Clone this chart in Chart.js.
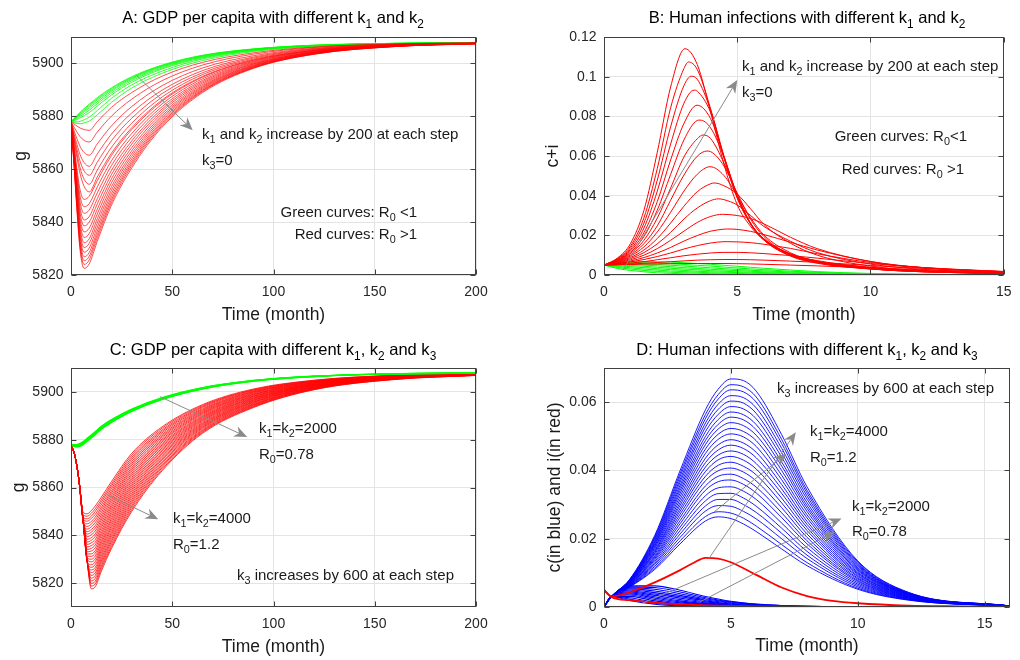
<!DOCTYPE html>
<html>
<head>
<meta charset="utf-8">
<title>GDP per capita and human infections</title>
<script src="https://cdn.jsdelivr.net/npm/chart.js@4.4.1/dist/chart.umd.min.js"></script>
<style>
  html, body { margin: 0; padding: 0; background: #ffffff; }
  #wrap { position: relative; width: 1020px; height: 660px; overflow: hidden; background: #fff;
          font-family: "Liberation Sans", Arial, Helvetica, sans-serif; }
  #wrap canvas { position: absolute; }
  .lbl { position: absolute; white-space: nowrap; line-height: 1; color: #000; }
  .lbl sub { font-size: 0.72em; vertical-align: baseline; position: relative; top: 0.38em; }
  .ttl { font-size: 16.5px; transform: translate(-50%, -50%); }
  .ann { font-size: 15px; transform: translate(0, -50%); color: #1a1a1a; }
  .annR { font-size: 15px; transform: translate(-100%, -50%); color: #1a1a1a; }
</style>
</head>
<body>
<div id="wrap">
  <canvas id="chartA" width="510" height="330" style="left:0px;top:0px"></canvas>
  <canvas id="chartB" width="510" height="330" style="left:510px;top:0px"></canvas>
  <canvas id="chartC" width="510" height="330" style="left:0px;top:330px"></canvas>
  <canvas id="chartD" width="510" height="330" style="left:510px;top:330px"></canvas>

  <div class="lbl ttl" style="left:273px;top:17px">A: GDP per capita with different k<sub>1</sub> and k<sub>2</sub></div>
  <div class="lbl ttl" style="left:807px;top:17px">B: Human infections with different k<sub>1</sub> and k<sub>2</sub></div>
  <div class="lbl ttl" style="left:273px;top:349px">C: GDP per capita with different k<sub>1</sub>, k<sub>2</sub> and k<sub>3</sub></div>
  <div class="lbl ttl" style="left:807px;top:349px">D: Human infections with different k<sub>1</sub>, k<sub>2</sub> and k<sub>3</sub></div>

  <div class="lbl ann" style="left:202px;top:133px">k<sub>1</sub> and k<sub>2</sub> increase by 200 at each step</div>
  <div class="lbl ann" style="left:202px;top:159px">k<sub>3</sub>=0</div>
  <div class="lbl annR" style="left:417px;top:211px">Green curves: R<sub>0</sub> &lt;1</div>
  <div class="lbl annR" style="left:417px;top:233px">Red curves: R<sub>0</sub> &gt;1</div>

  <div class="lbl ann" style="left:742px;top:65px">k<sub>1</sub> and k<sub>2</sub> increase by 200 at each step</div>
  <div class="lbl ann" style="left:742px;top:91px">k<sub>3</sub>=0</div>
  <div class="lbl annR" style="left:967px;top:135px">Green curves: R<sub>0</sub>&lt;1</div>
  <div class="lbl annR" style="left:964px;top:168px">Red curves: R<sub>0</sub> &gt;1</div>

  <div class="lbl ann" style="left:259px;top:427px">k<sub>1</sub>=k<sub>2</sub>=2000</div>
  <div class="lbl ann" style="left:259px;top:453px">R<sub>0</sub>=0.78</div>
  <div class="lbl ann" style="left:173px;top:517px">k<sub>1</sub>=k<sub>2</sub>=4000</div>
  <div class="lbl ann" style="left:173px;top:543px">R<sub>0</sub>=1.2</div>
  <div class="lbl ann" style="left:237px;top:574px">k<sub>3</sub> increases by 600 at each step</div>

  <div class="lbl ann" style="left:777px;top:387px">k<sub>3</sub> increases by 600 at each step</div>
  <div class="lbl ann" style="left:810px;top:430px">k<sub>1</sub>=k<sub>2</sub>=4000</div>
  <div class="lbl ann" style="left:810px;top:456px">R<sub>0</sub>=1.2</div>
  <div class="lbl ann" style="left:852px;top:505px">k<sub>1</sub>=k<sub>2</sub>=2000</div>
  <div class="lbl ann" style="left:852px;top:530px">R<sub>0</sub>=0.78</div>
</div>

<script>
// ---------------- Tick labels ----------------
const xTicksA = [0, 50, 100, 150, 200];
const yTicksA = [5820, 5840, 5860, 5880, 5900];
const xTicksB = [0, 5, 10, 15];
const yTicksB = [0, 0.02, 0.04, 0.06, 0.08, 0.1, 0.12];
const xTicksC = [0, 50, 100, 150, 200];
const yTicksC = [5820, 5840, 5860, 5880, 5900];
const xTicksD = [0, 5, 10, 15];
const yTicksD = [0, 0.02, 0.04, 0.06];

// ---------------- Panel A: GDP per capita g, k3 = 0 ----------------
const tA = [0, 1.5, 3, 4.5, 6.5, 9, 13, 20, 30, 45, 65, 90, 120, 160, 200];
const aGreen = [
  [5878, 5879.2, 5880.4, 5881.5, 5883.0, 5884.6, 5887.1, 5890.8, 5895.0, 5899.4, 5903.1, 5905.5, 5906.9, 5907.6, 5907.9],
  [5878, 5879.1, 5880.2, 5881.2, 5882.7, 5884.2, 5886.7, 5890.5, 5894.7, 5899.2, 5903.0, 5905.4, 5906.9, 5907.6, 5907.9],
  [5878, 5879.0, 5880.0, 5880.9, 5882.2, 5883.7, 5886.2, 5890.0, 5894.4, 5899.0, 5902.8, 5905.4, 5906.8, 5907.6, 5907.9],
  [5878, 5878.8, 5879.7, 5880.5, 5881.7, 5883.1, 5885.5, 5889.5, 5894.0, 5898.7, 5902.6, 5905.3, 5906.8, 5907.6, 5907.9],
  [5878, 5878.6, 5879.3, 5880.0, 5881.0, 5882.3, 5884.8, 5888.8, 5893.5, 5898.3, 5902.4, 5905.1, 5906.7, 5907.5, 5907.9],
  [5878, 5878.4, 5878.8, 5879.4, 5880.3, 5881.4, 5883.9, 5888.1, 5892.9, 5897.9, 5902.1, 5905.0, 5906.7, 5907.5, 5907.9],
  [5878, 5877.9, 5877.9, 5878.1, 5878.7, 5879.7, 5882.2, 5886.8, 5891.9, 5897.1, 5901.7, 5904.8, 5906.6, 5907.5, 5907.8],
  [5878, 5877.6, 5877.3, 5877.2, 5877.5, 5878.2, 5880.6, 5885.3, 5890.7, 5896.3, 5901.1, 5904.5, 5906.4, 5907.4, 5907.8]
];
const aRed = [
  [5878, 5877.1, 5876.3, 5875.6, 5875.0, 5874.7, 5878.0, 5883.4, 5889.0, 5895.2, 5900.4, 5904.0, 5906.2, 5907.4, 5907.8],
  [5878, 5875.9, 5874.0, 5872.3, 5870.9, 5870.3, 5874.1, 5880.1, 5886.5, 5893.5, 5899.4, 5903.5, 5906.0, 5907.3, 5907.7],
  [5878, 5874.6, 5871.4, 5868.6, 5866.3, 5865.3, 5869.6, 5876.4, 5883.7, 5891.6, 5898.3, 5902.9, 5905.7, 5907.2, 5907.7],
  [5878, 5873.4, 5869.2, 5865.5, 5862.5, 5861.1, 5865.8, 5873.3, 5881.3, 5889.9, 5897.3, 5902.4, 5905.5, 5907.1, 5907.7],
  [5878, 5872.5, 5867.4, 5863.0, 5859.3, 5857.7, 5862.7, 5870.8, 5879.3, 5888.6, 5896.5, 5902.0, 5905.3, 5907.0, 5907.6],
  [5878, 5871.6, 5865.7, 5860.5, 5856.2, 5854.3, 5859.7, 5868.3, 5877.4, 5887.3, 5895.8, 5901.6, 5905.1, 5907.0, 5907.6],
  [5878, 5870.8, 5864.2, 5858.3, 5853.5, 5851.4, 5857.1, 5866.1, 5875.7, 5886.2, 5895.1, 5901.3, 5904.9, 5906.9, 5907.6],
  [5878, 5869.2, 5859.8, 5852.1, 5848.6, 5849.8, 5855.7, 5865.2, 5875.0, 5885.7, 5894.8, 5901.1, 5904.9, 5906.9, 5907.6],
  [5878, 5868.3, 5858.0, 5849.7, 5845.8, 5847.0, 5853.3, 5863.2, 5873.5, 5884.7, 5894.2, 5900.8, 5904.7, 5906.8, 5907.6],
  [5878, 5867.6, 5856.5, 5847.5, 5843.3, 5844.6, 5851.1, 5861.4, 5872.1, 5883.7, 5893.6, 5900.5, 5904.6, 5906.8, 5907.6],
  [5878, 5866.8, 5854.9, 5845.3, 5840.8, 5842.1, 5848.9, 5859.6, 5870.7, 5882.8, 5893.1, 5900.2, 5904.4, 5906.7, 5907.6],
  [5878, 5866.2, 5853.6, 5843.3, 5838.6, 5840.0, 5846.9, 5858.0, 5869.5, 5882.0, 5892.6, 5899.9, 5904.3, 5906.7, 5907.5],
  [5878, 5865.5, 5852.1, 5841.3, 5836.3, 5837.7, 5844.9, 5856.4, 5868.2, 5881.1, 5892.1, 5899.7, 5904.2, 5906.6, 5907.5],
  [5878, 5864.9, 5850.8, 5839.5, 5834.2, 5835.7, 5843.1, 5854.9, 5867.0, 5880.3, 5891.6, 5899.4, 5904.1, 5906.6, 5907.5],
  [5878, 5864.3, 5849.6, 5837.7, 5832.2, 5833.7, 5841.3, 5853.4, 5865.9, 5879.6, 5891.2, 5899.2, 5904.0, 5906.6, 5907.5],
  [5878, 5863.7, 5848.5, 5836.1, 5830.4, 5832.0, 5839.7, 5852.1, 5864.9, 5878.9, 5890.8, 5899.0, 5903.9, 5906.5, 5907.5],
  [5878, 5863.2, 5847.4, 5834.5, 5828.6, 5830.2, 5838.1, 5850.8, 5863.9, 5878.2, 5890.4, 5898.8, 5903.8, 5906.5, 5907.5],
  [5878, 5862.7, 5846.3, 5833.0, 5826.9, 5828.5, 5836.6, 5849.6, 5863.0, 5877.6, 5890.0, 5898.6, 5903.7, 5906.5, 5907.5],
  [5878, 5862.2, 5845.4, 5831.7, 5825.4, 5827.1, 5835.3, 5848.5, 5862.2, 5877.0, 5889.7, 5898.4, 5903.6, 5906.4, 5907.5],
  [5878, 5861.8, 5844.5, 5830.5, 5824.0, 5825.7, 5834.1, 5847.5, 5861.4, 5876.5, 5889.4, 5898.3, 5903.5, 5906.4, 5907.4],
  [5878, 5861.3, 5843.6, 5829.2, 5822.5, 5824.2, 5832.8, 5846.4, 5860.5, 5875.9, 5889.0, 5898.1, 5903.5, 5906.4, 5907.4]
];

// ---------------- Panel B: c + i, k3 = 0 ----------------
const tB = [0, 0.5, 1, 1.5, 2, 2.5, 3, 3.5, 4, 4.5, 5, 5.5, 6, 7, 8, 10, 12, 15];
const bRed = [
  [0.005, 0.0085, 0.0160, 0.0327, 0.0619, 0.0948, 0.1135, 0.1061, 0.0822, 0.0559, 0.0354, 0.0245, 0.0177, 0.0105, 0.0072, 0.0039, 0.0021, 0.0009],
  [0.005, 0.0082, 0.0147, 0.0289, 0.0537, 0.0843, 0.1041, 0.1036, 0.0838, 0.0591, 0.0387, 0.0258, 0.0183, 0.0107, 0.0071, 0.0038, 0.0020, 0.0009],
  [0.005, 0.0080, 0.0138, 0.0262, 0.0478, 0.0747, 0.0955, 0.0987, 0.0832, 0.0601, 0.0391, 0.0261, 0.0180, 0.0105, 0.0069, 0.0036, 0.0019, 0.0009],
  [0.005, 0.0078, 0.0129, 0.0237, 0.0423, 0.0660, 0.0866, 0.0927, 0.0820, 0.0596, 0.0401, 0.0261, 0.0182, 0.0103, 0.0067, 0.0034, 0.0019, 0.0008],
  [0.005, 0.0075, 0.0122, 0.0214, 0.0370, 0.0580, 0.0764, 0.0856, 0.0788, 0.0599, 0.0402, 0.0257, 0.0180, 0.0103, 0.0065, 0.0033, 0.0018, 0.0008],
  [0.005, 0.0074, 0.0115, 0.0194, 0.0327, 0.0507, 0.0681, 0.0779, 0.0742, 0.0594, 0.0398, 0.0258, 0.0176, 0.0098, 0.0062, 0.0031, 0.0016, 0.0008],
  [0.005, 0.0072, 0.0109, 0.0175, 0.0287, 0.0438, 0.0595, 0.0687, 0.0688, 0.0565, 0.0402, 0.0261, 0.0177, 0.0095, 0.0059, 0.0030, 0.0016, 0.0007],
  [0.005, 0.0070, 0.0102, 0.0158, 0.0248, 0.0377, 0.0504, 0.0599, 0.0622, 0.0550, 0.0413, 0.0281, 0.0194, 0.0100, 0.0063, 0.0031, 0.0017, 0.0008],
  [0.005, 0.0068, 0.0096, 0.0142, 0.0217, 0.0316, 0.0423, 0.0508, 0.0546, 0.0502, 0.0399, 0.0289, 0.0202, 0.0112, 0.0068, 0.0032, 0.0016, 0.0007],
  [0.005, 0.0066, 0.0089, 0.0126, 0.0184, 0.0262, 0.0347, 0.0420, 0.0460, 0.0450, 0.0408, 0.0334, 0.0255, 0.0160, 0.0100, 0.0045, 0.0022, 0.0009],
  [0.005, 0.0064, 0.0083, 0.0113, 0.0157, 0.0215, 0.0282, 0.0338, 0.0375, 0.0380, 0.0353, 0.0300, 0.0245, 0.0170, 0.0113, 0.0055, 0.0028, 0.0011],
  [0.005, 0.0061, 0.0077, 0.0100, 0.0133, 0.0175, 0.0221, 0.0265, 0.0295, 0.0306, 0.0300, 0.0285, 0.0258, 0.0190, 0.0133, 0.0068, 0.0036, 0.0015],
  [0.005, 0.0059, 0.0071, 0.0088, 0.0111, 0.0139, 0.0171, 0.0199, 0.0221, 0.0231, 0.0230, 0.0220, 0.0204, 0.0165, 0.0126, 0.0068, 0.0037, 0.0016],
  [0.005, 0.0057, 0.0066, 0.0078, 0.0093, 0.0111, 0.0131, 0.0148, 0.0161, 0.0168, 0.0167, 0.0163, 0.0155, 0.0134, 0.0107, 0.0063, 0.0037, 0.0017],
  [0.005, 0.0055, 0.0060, 0.0067, 0.0077, 0.0087, 0.0097, 0.0105, 0.0111, 0.0114, 0.0114, 0.0112, 0.0108, 0.0098, 0.0085, 0.0058, 0.0037, 0.0018],
  [0.005, 0.0052, 0.0055, 0.0059, 0.0063, 0.0067, 0.0071, 0.0075, 0.0077, 0.0078, 0.0078, 0.0077, 0.0075, 0.0070, 0.0064, 0.0048, 0.0033, 0.0017],
  [0.005, 0.0051, 0.0053, 0.0055, 0.0056, 0.0057, 0.0058, 0.0058, 0.0058, 0.0058, 0.0057, 0.0056, 0.0054, 0.0050, 0.0046, 0.0036, 0.0026, 0.0014]
];
// peak (time, value) read for the taller red curves in panel B
const bPeakT = [3.04, 3.17, 3.27, 3.38, 3.49, 3.60, 3.72, 3.86, 3.98, 4.15, 4.30, 4.45, 4.60, 4.65];
const bPeakV = [0.1141, 0.1074, 0.1002, 0.0932, 0.0856, 0.0781, 0.0706, 0.0625, 0.0546, 0.0464, 0.0384, 0.0306, 0.0232, 0.0168];
const bGreen = [
  [0.005, 0.0062, 0.0067, 0.0068, 0.0067, 0.0065, 0.0062, 0.0058, 0.0054, 0.0049, 0.0044, 0.0039, 0.0034, 0.0025, 0.0017, 0.0008, 0.0004, 0.0001],
  [0.005, 0.0060, 0.0063, 0.0062, 0.0060, 0.0057, 0.0053, 0.0049, 0.0045, 0.0040, 0.0035, 0.0031, 0.0027, 0.0019, 0.0013, 0.0006, 0.0003, 0.0001],
  [0.005, 0.0057, 0.0058, 0.0056, 0.0053, 0.0049, 0.0045, 0.0041, 0.0036, 0.0032, 0.0028, 0.0024, 0.0021, 0.0015, 0.0010, 0.0004, 0.0002, 0.0001],
  [0.005, 0.0054, 0.0053, 0.0050, 0.0046, 0.0042, 0.0037, 0.0033, 0.0029, 0.0025, 0.0022, 0.0019, 0.0016, 0.0011, 0.0007, 0.0003, 0.0001, 0],
  [0.005, 0.0051, 0.0048, 0.0044, 0.0039, 0.0034, 0.0030, 0.0026, 0.0022, 0.0019, 0.0016, 0.0014, 0.0012, 0.0008, 0.0005, 0.0002, 0.0001, 0],
  [0.005, 0.0047, 0.0042, 0.0037, 0.0032, 0.0027, 0.0023, 0.0019, 0.0016, 0.0014, 0.0012, 0.0010, 0.0008, 0.0005, 0.0003, 0.0001, 0, 0],
  [0.005, 0.0043, 0.0036, 0.0030, 0.0025, 0.0020, 0.0017, 0.0014, 0.0011, 0.0009, 0.0008, 0.0006, 0.0005, 0.0003, 0.0002, 0.0001, 0, 0],
  [0.005, 0.0038, 0.0030, 0.0023, 0.0018, 0.0014, 0.0011, 0.0009, 0.0007, 0.0005, 0.0004, 0.0003, 0.0003, 0.0002, 0.0001, 0, 0, 0],
  [0.005, 0.0033, 0.0023, 0.0016, 0.0011, 0.0008, 0.0006, 0.0004, 0.0003, 0.0002, 0.0002, 0.0001, 0.0001, 0, 0, 0, 0, 0]
];

// ---------------- Panel C: g with k3 varying ----------------
const tC = [0, 2, 4, 6, 8, 10, 12, 15, 20, 30, 45, 65, 90, 120, 160, 200];
const cRed = [
  [5878, 5873, 5863.0, 5849.6, 5849.0, 5850.3, 5852.3, 5856.0, 5862.5, 5874.3, 5885.4, 5894.7, 5901.2, 5904.9, 5907.0, 5907.6],
  [5878, 5873, 5862.8, 5848.6, 5848.0, 5849.2, 5851.1, 5854.9, 5861.5, 5873.5, 5884.8, 5894.3, 5900.9, 5904.8, 5906.9, 5907.6],
  [5878, 5873, 5862.5, 5847.6, 5846.9, 5848.0, 5850.0, 5853.9, 5860.6, 5872.6, 5884.1, 5893.9, 5900.7, 5904.6, 5906.8, 5907.6],
  [5878, 5873, 5862.5, 5846.9, 5845.9, 5847.0, 5848.8, 5852.8, 5859.6, 5871.8, 5883.5, 5893.5, 5900.4, 5904.5, 5906.8, 5907.5],
  [5878, 5873, 5862.5, 5846.4, 5844.8, 5845.8, 5847.6, 5851.7, 5858.6, 5870.9, 5882.9, 5893.0, 5900.1, 5904.3, 5906.7, 5907.5],
  [5878, 5873, 5862.5, 5846.0, 5843.7, 5844.7, 5846.5, 5850.7, 5857.7, 5870.1, 5882.2, 5892.6, 5899.9, 5904.2, 5906.7, 5907.5],
  [5878, 5873, 5862.5, 5846.0, 5842.6, 5843.5, 5845.3, 5849.6, 5856.7, 5869.3, 5881.6, 5892.2, 5899.6, 5904.1, 5906.6, 5907.5],
  [5878, 5873, 5862.5, 5846.0, 5841.5, 5842.4, 5844.1, 5848.5, 5855.7, 5868.4, 5881.0, 5891.8, 5899.3, 5903.9, 5906.5, 5907.4],
  [5878, 5873, 5862.5, 5846.0, 5840.5, 5841.3, 5843.0, 5847.4, 5854.8, 5867.6, 5880.3, 5891.4, 5899.0, 5903.8, 5906.5, 5907.4],
  [5878, 5873, 5862.5, 5846.0, 5839.4, 5840.2, 5841.8, 5846.4, 5853.8, 5866.8, 5879.7, 5891.0, 5898.8, 5903.7, 5906.4, 5907.4],
  [5878, 5873, 5862.5, 5846.0, 5838.3, 5839.0, 5840.6, 5845.3, 5852.8, 5865.9, 5879.1, 5890.6, 5898.5, 5903.5, 5906.4, 5907.4],
  [5878, 5873, 5862.5, 5846.0, 5837.2, 5837.9, 5839.5, 5844.2, 5851.9, 5865.1, 5878.4, 5890.1, 5898.2, 5903.4, 5906.3, 5907.3],
  [5878, 5873, 5862.5, 5846.0, 5836.2, 5836.8, 5838.3, 5843.2, 5850.9, 5864.2, 5877.8, 5889.7, 5898.0, 5903.2, 5906.2, 5907.3],
  [5878, 5873, 5862.5, 5846.0, 5835.1, 5835.7, 5837.1, 5842.1, 5849.9, 5863.4, 5877.2, 5889.3, 5897.7, 5903.1, 5906.2, 5907.3],
  [5878, 5873, 5862.5, 5846.0, 5834.1, 5834.5, 5836.0, 5841.0, 5849.0, 5862.6, 5876.5, 5888.9, 5897.4, 5903.0, 5906.1, 5907.3],
  [5878, 5873, 5862.5, 5846.0, 5833.1, 5833.4, 5834.8, 5840.0, 5848.0, 5861.7, 5875.9, 5888.5, 5897.2, 5902.8, 5906.1, 5907.2],
  [5878, 5873, 5862.5, 5846.0, 5832.2, 5832.2, 5833.6, 5838.9, 5847.0, 5860.9, 5875.3, 5888.1, 5896.9, 5902.7, 5906.0, 5907.2],
  [5878, 5873, 5862.5, 5846.0, 5831.3, 5831.2, 5832.5, 5837.8, 5846.1, 5860.1, 5874.6, 5887.7, 5896.6, 5902.6, 5905.9, 5907.2],
  [5878, 5873, 5862.5, 5846.0, 5830.5, 5830.0, 5831.3, 5836.8, 5845.1, 5859.2, 5874.0, 5887.2, 5896.4, 5902.4, 5905.9, 5907.2],
  [5878, 5873, 5862.5, 5846.0, 5829.8, 5828.9, 5830.1, 5835.7, 5844.1, 5858.4, 5873.4, 5886.8, 5896.1, 5902.3, 5905.8, 5907.1],
  [5878, 5873, 5862.5, 5846.0, 5829.0, 5827.7, 5829.0, 5834.6, 5843.2, 5857.5, 5872.7, 5886.4, 5895.8, 5902.1, 5905.8, 5907.1],
  [5878, 5873, 5862.5, 5846.0, 5829.0, 5826.6, 5827.8, 5833.6, 5842.2, 5856.7, 5872.1, 5886.0, 5895.6, 5902.0, 5905.7, 5907.1],
  [5878, 5873, 5862.5, 5846.0, 5829.0, 5825.5, 5826.6, 5832.5, 5841.2, 5855.9, 5871.5, 5885.6, 5895.3, 5901.9, 5905.6, 5907.1],
  [5878, 5873, 5862.5, 5846.0, 5829.0, 5824.4, 5825.5, 5831.4, 5840.3, 5855.0, 5870.8, 5885.2, 5895.0, 5901.7, 5905.6, 5907.0],
  [5878, 5873, 5862.5, 5846.0, 5829.0, 5823.2, 5824.3, 5830.3, 5839.3, 5854.2, 5870.2, 5884.8, 5894.7, 5901.6, 5905.5, 5907.0],
  [5878, 5873, 5862.5, 5846.0, 5829.0, 5822.1, 5823.2, 5829.3, 5838.3, 5853.4, 5869.5, 5884.3, 5894.5, 5901.5, 5905.5, 5907.0],
  [5878, 5873, 5862.5, 5846.0, 5829.0, 5820.9, 5822.0, 5828.2, 5837.4, 5852.5, 5868.9, 5883.9, 5894.2, 5901.3, 5905.4, 5907.0],
  [5878, 5873, 5862.5, 5846.0, 5829.0, 5819.9, 5820.8, 5827.1, 5836.4, 5851.7, 5868.3, 5883.5, 5893.9, 5901.2, 5905.3, 5906.9],
  [5878, 5873, 5862.5, 5846.0, 5829.0, 5818.8, 5819.7, 5826.1, 5835.4, 5850.8, 5867.6, 5883.1, 5893.7, 5901.0, 5905.3, 5906.9],
  [5878, 5873, 5862.5, 5846.0, 5829.0, 5817.6, 5818.5, 5825.0, 5834.5, 5850.0, 5867.0, 5882.7, 5893.4, 5900.9, 5905.2, 5906.9]
];
const cGreen = [
  [5878, 5877.9, 5878.3, 5879.2, 5880.6, 5882.0, 5883.4, 5885.6, 5888.4, 5892.8, 5897.6, 5901.8, 5904.8, 5906.6, 5907.6, 5907.9],
  [5878, 5877.7, 5878.1, 5878.9, 5880.3, 5881.7, 5883.1, 5885.4, 5888.2, 5892.6, 5897.4, 5901.7, 5904.7, 5906.6, 5907.6, 5907.9],
  [5878, 5877.5, 5877.8, 5878.7, 5880.1, 5881.5, 5882.9, 5885.1, 5887.9, 5892.4, 5897.3, 5901.6, 5904.7, 5906.5, 5907.6, 5907.9],
  [5878, 5877.4, 5877.6, 5878.4, 5879.8, 5881.2, 5882.6, 5884.9, 5887.7, 5892.2, 5897.1, 5901.4, 5904.6, 5906.5, 5907.6, 5907.9],
  [5878, 5877.2, 5877.3, 5878.2, 5879.6, 5881.0, 5882.4, 5884.6, 5887.4, 5892.0, 5896.9, 5901.3, 5904.5, 5906.4, 5907.5, 5907.9],
  [5878, 5877.0, 5877.1, 5877.9, 5879.3, 5880.7, 5882.1, 5884.4, 5887.2, 5891.8, 5896.8, 5901.2, 5904.5, 5906.4, 5907.5, 5907.9]
];

// ---------------- Panel D: c (blue) and i (red) ----------------
const tD = [0, 0.3, 1, 2, 3, 4, 4.5, 5, 5.5, 6, 7, 8, 10, 12, 16];
const dBlueHigh = [
  [0, 0.0031, 0.0080, 0.0210, 0.0400, 0.0578, 0.0638, 0.0668, 0.0663, 0.0632, 0.0505, 0.0352, 0.0135, 0.0043, 0.0003],
  [0, 0.0031, 0.0079, 0.0206, 0.0391, 0.0564, 0.0622, 0.0651, 0.0645, 0.0615, 0.0491, 0.0342, 0.0132, 0.0042, 0.0003],
  [0, 0.0031, 0.0078, 0.0202, 0.0383, 0.0552, 0.0609, 0.0636, 0.0630, 0.0600, 0.0479, 0.0334, 0.0128, 0.0041, 0.0003],
  [0, 0.0031, 0.0077, 0.0198, 0.0374, 0.0539, 0.0594, 0.0619, 0.0613, 0.0583, 0.0465, 0.0325, 0.0125, 0.0040, 0.0003],
  [0, 0.0031, 0.0077, 0.0194, 0.0366, 0.0527, 0.0579, 0.0603, 0.0597, 0.0567, 0.0452, 0.0316, 0.0122, 0.0039, 0.0003],
  [0, 0.0031, 0.0076, 0.0190, 0.0357, 0.0514, 0.0564, 0.0587, 0.0580, 0.0551, 0.0439, 0.0306, 0.0119, 0.0038, 0.0003],
  [0, 0.0031, 0.0075, 0.0186, 0.0349, 0.0500, 0.0549, 0.0571, 0.0563, 0.0534, 0.0425, 0.0297, 0.0115, 0.0038, 0.0003],
  [0, 0.0031, 0.0074, 0.0183, 0.0341, 0.0488, 0.0535, 0.0556, 0.0548, 0.0519, 0.0413, 0.0289, 0.0112, 0.0037, 0.0003],
  [0, 0.0031, 0.0073, 0.0179, 0.0333, 0.0476, 0.0521, 0.0540, 0.0531, 0.0503, 0.0400, 0.0280, 0.0109, 0.0036, 0.0003],
  [0, 0.0031, 0.0072, 0.0175, 0.0324, 0.0463, 0.0506, 0.0523, 0.0514, 0.0487, 0.0386, 0.0270, 0.0106, 0.0035, 0.0003],
  [0, 0.0031, 0.0071, 0.0171, 0.0315, 0.0450, 0.0491, 0.0507, 0.0498, 0.0470, 0.0373, 0.0261, 0.0102, 0.0034, 0.0003],
  [0, 0.0031, 0.0070, 0.0166, 0.0306, 0.0436, 0.0475, 0.0490, 0.0480, 0.0453, 0.0359, 0.0251, 0.0099, 0.0033, 0.0003],
  [0, 0.0031, 0.0070, 0.0163, 0.0298, 0.0423, 0.0460, 0.0474, 0.0464, 0.0437, 0.0346, 0.0242, 0.0096, 0.0032, 0.0003],
  [0, 0.0031, 0.0069, 0.0159, 0.0289, 0.0410, 0.0445, 0.0457, 0.0447, 0.0420, 0.0333, 0.0233, 0.0092, 0.0031, 0.0002],
  [0, 0.0031, 0.0068, 0.0155, 0.0281, 0.0397, 0.0431, 0.0441, 0.0430, 0.0404, 0.0319, 0.0224, 0.0089, 0.0030, 0.0002],
  [0, 0.0031, 0.0067, 0.0150, 0.0272, 0.0383, 0.0415, 0.0424, 0.0412, 0.0387, 0.0305, 0.0214, 0.0085, 0.0029, 0.0002],
  [0, 0.0031, 0.0066, 0.0146, 0.0263, 0.0370, 0.0399, 0.0407, 0.0395, 0.0369, 0.0291, 0.0204, 0.0082, 0.0028, 0.0002],
  [0, 0.0031, 0.0065, 0.0142, 0.0253, 0.0355, 0.0383, 0.0389, 0.0376, 0.0351, 0.0276, 0.0194, 0.0078, 0.0027, 0.0002],
  [0, 0.0031, 0.0064, 0.0138, 0.0244, 0.0342, 0.0367, 0.0372, 0.0359, 0.0334, 0.0262, 0.0185, 0.0075, 0.0026, 0.0002],
  [0, 0.0031, 0.0063, 0.0133, 0.0234, 0.0326, 0.0349, 0.0352, 0.0339, 0.0315, 0.0246, 0.0174, 0.0071, 0.0025, 0.0002],
  [0, 0.0031, 0.0062, 0.0128, 0.0224, 0.0311, 0.0332, 0.0333, 0.0319, 0.0295, 0.0231, 0.0163, 0.0067, 0.0024, 0.0002],
  [0, 0.0031, 0.0061, 0.0124, 0.0214, 0.0296, 0.0315, 0.0315, 0.0300, 0.0277, 0.0216, 0.0152, 0.0063, 0.0023, 0.0002],
  [0, 0.0031, 0.0060, 0.0119, 0.0204, 0.0281, 0.0297, 0.0295, 0.0280, 0.0258, 0.0200, 0.0142, 0.0059, 0.0022, 0.0002],
  [0, 0.0031, 0.0059, 0.0114, 0.0194, 0.0265, 0.0279, 0.0275, 0.0260, 0.0237, 0.0183, 0.0130, 0.0055, 0.0021, 0.0002],
  [0, 0.0031, 0.0058, 0.0110, 0.0185, 0.0252, 0.0264, 0.0259, 0.0243, 0.0221, 0.0170, 0.0121, 0.0052, 0.0020, 0.0002]
];
const tDL = [0, 0.3, 1, 2, 3, 4, 5, 6, 8, 10, 16];
const dBlueLow = [
  [0, 0.0031, 0.0062, 0.0062, 0.0049, 0.0031, 0.0017, 0.0009, 0.0002, 0.0001, 0],
  [0, 0.0031, 0.0059, 0.0057, 0.0044, 0.0027, 0.0015, 0.0008, 0.0002, 0.0001, 0],
  [0, 0.0031, 0.0056, 0.0052, 0.0039, 0.0024, 0.0013, 0.0007, 0.0002, 0, 0],
  [0, 0.0031, 0.0053, 0.0047, 0.0034, 0.0021, 0.0011, 0.0006, 0.0001, 0, 0],
  [0, 0.0031, 0.0050, 0.0042, 0.0030, 0.0018, 0.0009, 0.0005, 0.0001, 0, 0],
  [0, 0.0031, 0.0047, 0.0038, 0.0026, 0.0015, 0.0008, 0.0004, 0.0001, 0, 0],
  [0, 0.0031, 0.0044, 0.0034, 0.0022, 0.0012, 0.0006, 0.0003, 0.0001, 0, 0],
  [0, 0.0031, 0.0041, 0.0030, 0.0018, 0.0010, 0.0005, 0.0002, 0, 0, 0],
  [0, 0.0031, 0.0038, 0.0026, 0.0015, 0.0008, 0.0004, 0.0002, 0, 0, 0],
  [0, 0.0031, 0.0035, 0.0022, 0.0012, 0.0006, 0.0003, 0.0001, 0, 0, 0],
  [0, 0.0031, 0.0031, 0.0018, 0.0009, 0.0005, 0.0002, 0.0001, 0, 0, 0],
  [0, 0.0031, 0.0027, 0.0014, 0.0007, 0.0003, 0.0001, 0.0001, 0, 0, 0],
  [0, 0.0031, 0.0023, 0.0011, 0.0005, 0.0002, 0.0001, 0, 0, 0, 0],
  [0, 0.0031, 0.0019, 0.0008, 0.0003, 0.0001, 0, 0, 0, 0, 0]
];
const tDR = [0, 0.3, 1, 2, 3, 3.5, 4, 4.5, 5, 6, 7, 8, 9, 10, 12, 14, 16];
const dRedHigh = [0.005, 0.0031, 0.0043, 0.0072, 0.0108, 0.0128, 0.0144, 0.0142, 0.0131, 0.0094, 0.0057, 0.0032, 0.0018, 0.0011, 0.0004, 0.0002, 0.0001];
const tDRL = [0, 0.3, 1, 2, 3, 4, 5, 6, 8, 10, 16];
const dRedLow = [0.005, 0.0029, 0.0020, 0.0013, 0.0008, 0.0005, 0.0003, 0.0002, 0.0001, 0, 0];

// ---------------- Annotation arrows (data coordinates: from x,y to x,y) ----------------
const arrowsA = [[32.4, 5895.5, 60.1, 5874.7]];
const arrowsB = [[0.71, 0.0025, 5.0, 0.0983]];
const arrowsC = [[44, 5898, 87, 5881.1], [17.6, 5857.1, 43.1, 5846.7]];
const arrowsD = [[4.15, 0.0144, 7.56, 0.0512], [4.33, 0.0278, 7.19, 0.0449], [1.5, 0.0011, 9.36, 0.0259], [3.78, 0.0015, 9.09, 0.022]];

// ---------------- helpers ----------------
Chart.defaults.font.family = '"Liberation Sans", Arial, Helvetica, sans-serif';

function pts(ts, vs) { return ts.map((t, i) => ({ x: t, y: vs[i] })); }
function ptsWithPeak(ts, vs, tp, p) {
  const out = [];
  ts.forEach((t, i) => { if (Math.abs(t - tp) >= 0.08) out.push({ x: t, y: vs[i] }); });
  out.push({ x: tp, y: p });
  out.sort((a, b) => a.x - b.x);
  return out;
}
function ds(data, color, width, order) {
  return { data, borderColor: color, borderWidth: width, order, pointRadius: 0, pointHoverRadius: 0,
           fill: false, cubicInterpolationMode: 'monotone', tension: 0 };
}

const matlabAxes = {
  id: 'matlabAxes',
  afterDatasetsDraw(chart, args, opts) {
    const { ctx, chartArea: a } = chart;
    const xs = chart.scales.x, ys = chart.scales.y;
    ctx.save();
    (opts.arrows || []).forEach(([x1, y1, x2, y2]) => {
      const p1x = xs.getPixelForValue(x1), p1y = ys.getPixelForValue(y1);
      const p2x = xs.getPixelForValue(x2), p2y = ys.getPixelForValue(y2);
      const ang = Math.atan2(p2y - p1y, p2x - p1x);
      const L = 13, W = 5.5, notch = 9;
      const c = Math.cos(ang), s = Math.sin(ang);
      const bx = p2x - L * c, by = p2y - L * s;
      const nx = p2x - notch * c, ny = p2y - notch * s;
      ctx.strokeStyle = '#8a8a8a'; ctx.fillStyle = '#8a8a8a'; ctx.lineWidth = 1;
      ctx.beginPath(); ctx.moveTo(p1x, p1y); ctx.lineTo(nx, ny); ctx.stroke();
      ctx.beginPath();
      ctx.moveTo(p2x, p2y);
      ctx.lineTo(bx + W * s, by - W * c);
      ctx.lineTo(nx, ny);
      ctx.lineTo(bx - W * s, by + W * c);
      ctx.closePath(); ctx.fill();
    });
    const L = Math.round(a.left) + 0.5, R = Math.round(a.right) - 0.5;
    const T = Math.round(a.top) + 0.5, B = Math.round(a.bottom) - 0.5;
    ctx.strokeStyle = '#404040'; ctx.lineWidth = 1;
    ctx.strokeRect(L, T, R - L, B - T);
    ctx.beginPath();
    xs.ticks.forEach(t => {
      const px = Math.round(xs.getPixelForValue(t.value)) + 0.5;
      ctx.moveTo(px, B); ctx.lineTo(px, B - 5);
      ctx.moveTo(px, T); ctx.lineTo(px, T + 5);
    });
    ys.ticks.forEach(t => {
      const py = Math.round(ys.getPixelForValue(t.value)) + 0.5;
      ctx.moveTo(L, py); ctx.lineTo(L + 5, py);
      ctx.moveTo(R, py); ctx.lineTo(R - 5, py);
    });
    ctx.stroke();
    ctx.restore();
  }
};

function makeChart(id, o) {
  return new Chart(document.getElementById(id), {
    type: 'line',
    data: { datasets: o.datasets },
    options: {
      responsive: false, animation: false, devicePixelRatio: 1, events: [],
      layout: { padding: o.padding },
      plugins: { legend: { display: false }, tooltip: { enabled: false }, title: { display: false },
                 matlabAxes: { arrows: o.arrows } },
      scales: {
        x: {
          type: 'linear', min: o.xmin, max: o.xmax,
          afterBuildTicks: s => { s.ticks = o.xticks.map(v => ({ value: v })); },
          afterFit: s => { s.height = o.xAxisH; },
          grid: { color: '#e4e4e4', lineWidth: 1, drawTicks: false },
          border: { display: false },
          ticks: { autoSkip: false, maxRotation: 0, padding: 8.5, color: '#262626', font: { size: 14 },
                   callback: v => String(+(+v).toFixed(4)) },
          title: { display: true, text: 'Time (month)', color: '#1a1a1a', font: { size: 17.5 },
                   padding: { top: 0, bottom: o.xTitlePad } }
        },
        y: {
          type: 'linear', min: o.ymin, max: o.ymax,
          afterBuildTicks: s => { s.ticks = o.yticks.map(v => ({ value: v })); },
          afterFit: s => { s.width = o.yAxisW; },
          grid: { color: '#e4e4e4', lineWidth: 1, drawTicks: false },
          border: { display: false },
          ticks: { autoSkip: false, padding: 7.5, color: '#262626', font: { size: 14 },
                   callback: v => String(+(+v).toFixed(4)) },
          title: { display: true, text: o.ylabel, color: '#1a1a1a', font: { size: 17.5 },
                   padding: { top: o.yTitlePad, bottom: 0 } }
        }
      }
    },
    plugins: [matlabAxes]
  });
}

// ---------------- Panel A ----------------
const dsA = [];
aRed.forEach(v => dsA.push(ds(pts(tA, v), '#ff0000', 0.7, 0)));
aGreen.forEach(v => dsA.push(ds(pts(tA, v), '#00ff00', 0.8, 1)));
makeChart('chartA', {
  datasets: dsA, padding: { top: 37, right: 34, left: 0, bottom: 0 },
  xmin: 0, xmax: 200, ymin: 5820, ymax: 5910, xticks: xTicksA, yticks: yTicksA,
  xAxisH: 55, yAxisW: 71, xTitlePad: 4.5, yTitlePad: 10.2, ylabel: 'g', arrows: arrowsA
});

// ---------------- Panel B ----------------
const dsB = [];
bRed.forEach((v, i) => {
  const data = i < bPeakT.length ? ptsWithPeak(tB, v, bPeakT[i], bPeakV[i]) : pts(tB, v);
  dsB.push(ds(data, '#ff0000', 1, 0));
});
bGreen.forEach(v => dsB.push(ds(pts(tB, v), '#00ff00', 1, 1)));
makeChart('chartB', {
  datasets: dsB, padding: { top: 37, right: 10, left: 0, bottom: 0 },
  xmin: 0, xmax: 15, ymin: 0, ymax: 0.12, xticks: xTicksB, yticks: yTicksB,
  xAxisH: 55, yAxisW: 94, xTitlePad: 4.5, yTitlePad: 32.8, ylabel: 'c+i', arrows: arrowsB
});

// ---------------- Panel C ----------------
const dsC = [];
cRed.forEach(v => dsC.push(ds(pts(tC, v), '#ff0000', 0.8, 1)));
cGreen.forEach(v => dsC.push(ds(pts(tC, v), '#00ff00', 1.2, 0)));
makeChart('chartC', {
  datasets: dsC, padding: { top: 38, right: 34, left: 0, bottom: 0 },
  xmin: 0, xmax: 200, ymin: 5810, ymax: 5910, xticks: xTicksC, yticks: yTicksC,
  xAxisH: 53, yAxisW: 71, xTitlePad: 2.8, yTitlePad: 8.5, ylabel: 'g', arrows: arrowsC
});

// ---------------- Panel D ----------------
const dsD = [];
dsD.push(ds(pts(tDR, dRedHigh), '#ff0000', 1.8, 0));
dsD.push(ds(pts(tDRL, dRedLow), '#ff0000', 1.8, 0));
dBlueHigh.forEach(v => dsD.push(ds(pts(tD, v), '#0000ff', 0.9, 1)));
dBlueLow.forEach(v => dsD.push(ds(pts(tDL, v), '#0000ff', 1.1, 1)));
makeChart('chartD', {
  datasets: dsD, padding: { top: 38, right: 10, left: 0, bottom: 0 },
  xmin: 0, xmax: 16, ymin: 0, ymax: 0.07, xticks: xTicksD, yticks: yTicksD,
  xAxisH: 53, yAxisW: 94, xTitlePad: 3.5, yTitlePad: 34.5, ylabel: 'c(in blue) and i(in red)', arrows: arrowsD
});
</script>
</body>
</html>
